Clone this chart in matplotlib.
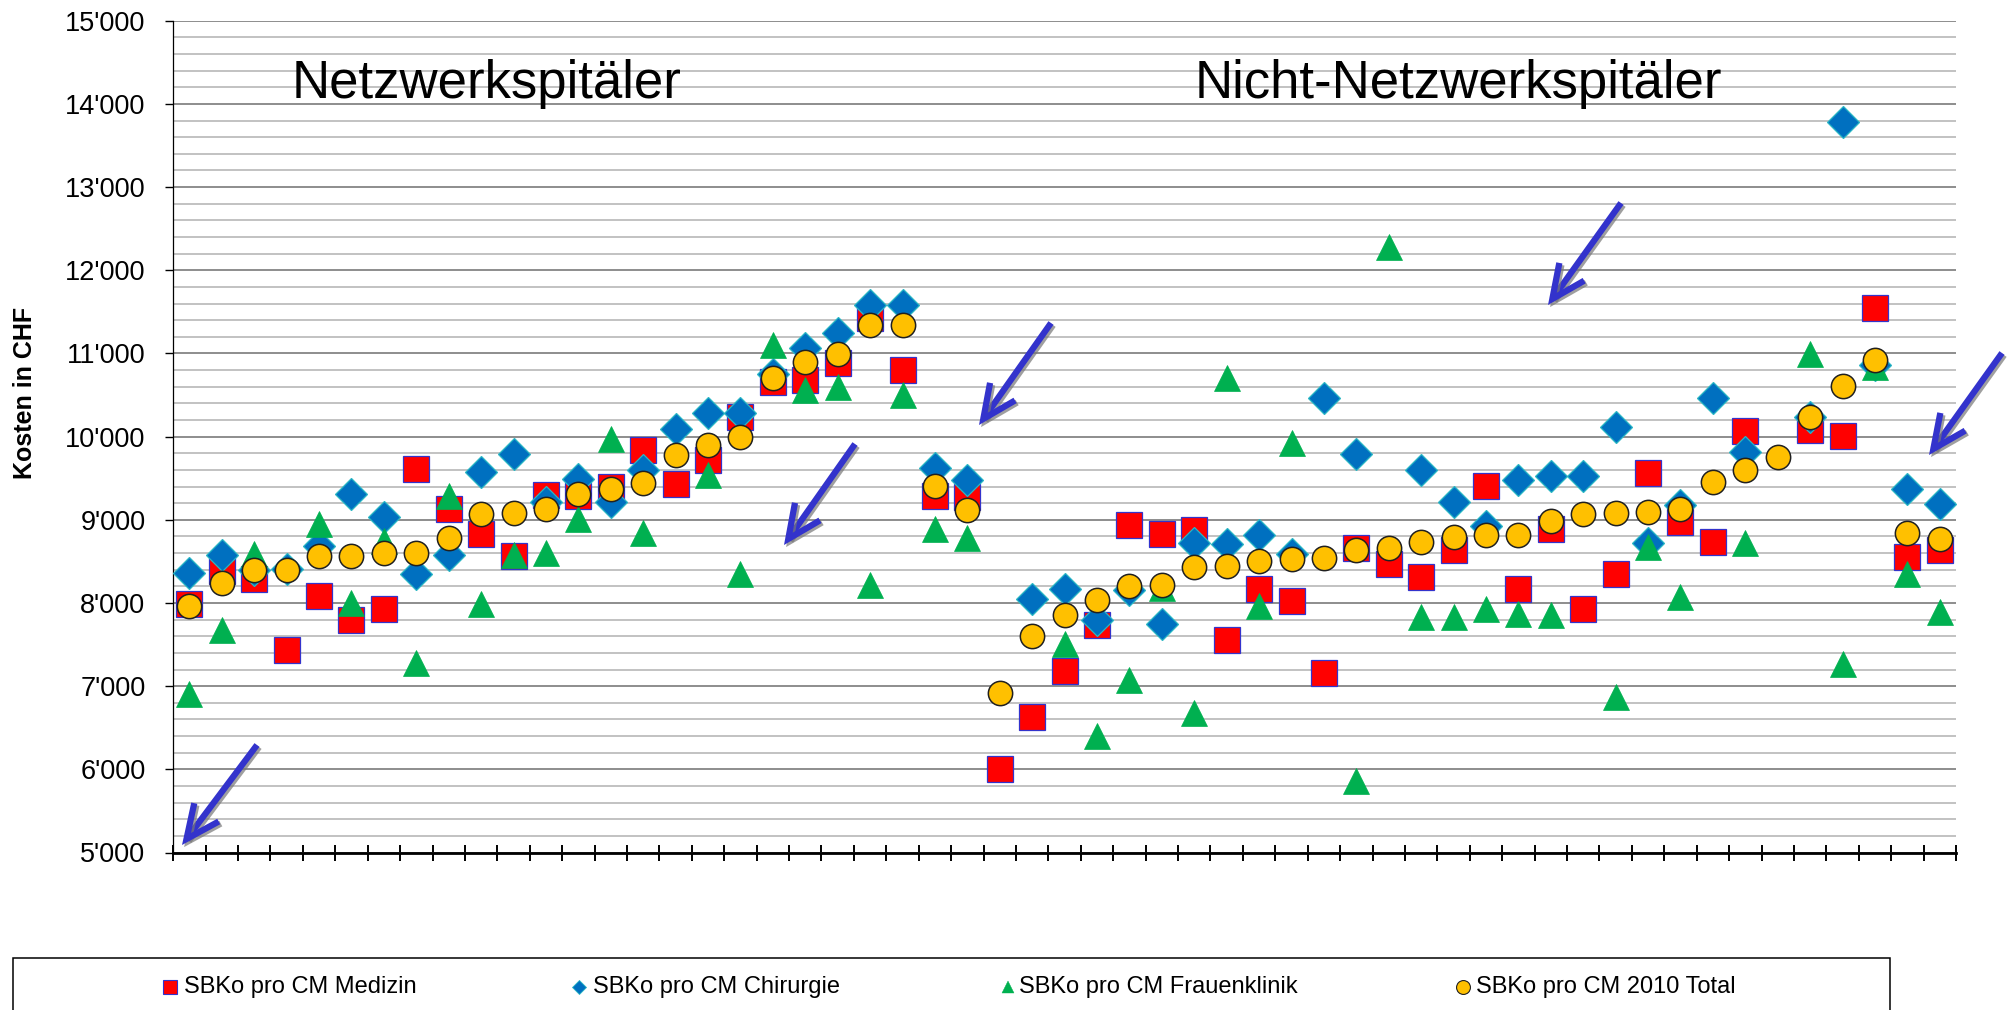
import numpy as np
import matplotlib
matplotlib.use("Agg")
import matplotlib.pyplot as plt
import matplotlib.patheffects as pe
from matplotlib.lines import Line2D
from matplotlib.patches import Rectangle, FancyArrowPatch
from matplotlib.ticker import FuncFormatter, MultipleLocator

plt.rcParams['font.family'] = ['Liberation Sans', 'DejaVu Sans']

nan = np.nan

# SBKo pro CM, one value per hospital (55 hospitals)
medizin = [7990, 8390, 8285, 7440, 8080, 7790, 7925, 9610, 9130, 8835,
           8565, 9295, 9280, 9400, 9835, 9430, 9715, 10230, 10660, 10685,
           10880, 11420, 10800, 9280, 9275, 6005, 6630, 7180, 7730, 8940,
           8835, 8875, 7560, 8170, 8025, 7160, 8655, 8465, 8310, 8635,
           9405, 8170, 8890, 7930, 8345, 9565, 8975, 8735, 10065, nan,
           10080, 10010, 11550, 8555, 8640]
chirurgie = [8360, 8575, 8400, 8410, 8690, 9315, 9035, 8350, 8575, 9575,
             9790, 9215, 9495, 9215, 9600, 10095, 10285, 10285, 10750, 11060,
             11240, 11580, 11580, 9625, 9475, nan, 8050, 8170, 7790, 8150,
             7745, 8720, 8705, 8815, 8590, 10470, 9790, nan, 9595, 9215,
             8920, 9475, 9525, 9525, 10115, 8715, 9175, 10470, 9820, nan,
             10230, 13785, 10860, 9375, 9195]
frauenklinik = [6910, 7680, 8590, nan, 8950, 8000, 8750, 7275, 9280, 7990,
                8575, 8595, 9005, 9975, 8845, nan, 9540, 8350, 11100, 10555,
                10600, 8210, 10500, 8895, 8775, nan, nan, 7510, 6395, 7075,
                8180, 6675, 10700, 7960, 9925, nan, 5865, 12280, 7830, 7830,
                7930, 7870, 7850, nan, 6870, 8675, 8070, nan, 8715, nan,
                10990, 7270, 10840, 8345, 7890]
total_2010 = [7965, 8235, 8395, 8395, 8560, 8560, 8595, 8605, 8785, 9075,
              9085, 9130, 9305, 9375, 9445, 9780, 9900, 9990, 10710, 10900,
              10990, 11340, 11340, 9405, 9120, 6915, 7600, 7850, 8030, 8205,
              8210, 8430, 8440, 8500, 8530, 8540, 8640, 8655, 8735, 8795,
              8815, 8815, 8980, 9075, 9080, 9095, 9135, 9450, 9595, 9760,
              10240, 10610, 10915, 8840, 8765]

series_labels = ['SBKo pro CM Medizin', 'SBKo pro CM Chirurgie',
                 'SBKo pro CM Frauenklinik', 'SBKo pro CM 2010 Total']
group_labels = ['Netzwerkspitäler', 'Nicht-Netzwerkspitäler']
y_label = 'Kosten in CHF'

W, H = 2015, 1010
fig = plt.figure(figsize=(W / 100, H / 100), dpi=100)
ax = fig.add_axes([173.2 / W, 1 - 852.5 / H, (1956 - 173.2) / W, (852.5 - 20.7) / H])

n = len(total_2010)
x = np.arange(n)

ax.plot(x, medizin, ls='none', marker='s', ms=19.2, mfc='#ff0000',
        mec='#3333cc', mew=0.9, zorder=3)
ax.plot(x, chirurgie, ls='none', marker='D', ms=15.8, mfc='#0070c0',
        mec='#2ab7c4', mew=0.9, zorder=4)
ax.plot(x, frauenklinik, ls='none', marker='^', ms=18.7, mfc='#00b050',
        mec='#00b050', mew=0.5, zorder=5)
ax.plot(x, total_2010, ls='none', marker='o', ms=17.5, mfc='#ffc000',
        mec='#202020', mew=1.1, zorder=6)

ax.set_xlim(-0.5, n - 0.5)
ax.set_ylim(5000, 15000)
ax.yaxis.set_major_locator(MultipleLocator(1000))
ax.yaxis.set_minor_locator(MultipleLocator(200))
ax.yaxis.set_major_formatter(FuncFormatter(lambda v, p: f"{v:,.0f}".replace(",", "'")))
ax.set_xticks(np.arange(n + 1) - 0.5)
ax.set_xticklabels([])

ax.grid(True, axis='y', which='minor', color='#b8b8b8', lw=1.2, zorder=0)
ax.grid(True, axis='y', which='major', color='#858585', lw=1.3, zorder=0)
ax.set_axisbelow(True)

ax.spines['top'].set_visible(False)
ax.spines['right'].set_visible(False)
ax.spines['left'].set_linewidth(0.9)
ax.spines['bottom'].set_linewidth(2.0)
ax.tick_params(axis='y', which='major', direction='out', length=6, width=1.0,
               labelsize=19.5, pad=14)
ax.tick_params(axis='y', which='minor', length=0)
ax.tick_params(axis='x', direction='inout', length=12, width=1.4)

fig.text(25 / W, 1 - 393 / H, y_label, rotation=90, ha='center', va='center',
         fontsize=18, fontweight='bold')

# group titles
fig.text(292 / W, 1 - 98 / H, group_labels[0], fontsize=38, ha='left', va='baseline')
fig.text(1195 / W, 1 - 98 / H, group_labels[1], fontsize=38, ha='left', va='baseline')

# arrows (tail -> head, pixel coords from top-left)
arrows = [((257, 745), (182, 845)), ((855, 444), (784, 545)),
          ((1051, 323), (979, 425)), ((1621, 203), (1548, 305)),
          ((2002, 353), (1929, 455))]
for (x0, y0), (x1, y1) in arrows:
    arr = FancyArrowPatch((x0 / W, 1 - y0 / H), (x1 / W, 1 - y1 / H),
                          transform=fig.transFigure,
                          arrowstyle='->,head_length=2.4,head_width=1.1',
                          mutation_scale=10, lw=4.5, color='#3333cc',
                          shrinkA=0, shrinkB=0, capstyle='butt', joinstyle='miter')
    arr.set_path_effects([pe.SimpleLineShadow(offset=(1.5, -1.5), shadow_color='#777777', alpha=0.7),
                          pe.Normal()])
    fig.add_artist(arr)

# legend box
fig.add_artist(Rectangle((13 / W, -0.05), (1890 - 13) / W, (H - 958) / H + 0.05,
                         transform=fig.transFigure, fill=False, ec='black', lw=1.1))
leg_y = 1 - 987 / H
leg_marker_x = [170, 579, 1008, 1463]
leg_text_x = [184, 593, 1019, 1476]
leg_styles = [dict(marker='s', ms=9.5, mfc='#ff0000', mec='#3333cc', mew=0.8),
              dict(marker='D', ms=7, mfc='#0070c0', mec='#2ab7c4', mew=0.6),
              dict(marker='^', ms=9, mfc='#00b050', mec='#00b050', mew=0.3),
              dict(marker='o', ms=10, mfc='#ffc000', mec='#202020', mew=0.8)]
for mx, tx, lab, st in zip(leg_marker_x, leg_text_x, series_labels, leg_styles):
    fig.add_artist(Line2D([mx / W], [leg_y], transform=fig.transFigure, ls='none', **st))
    fig.text(tx / W, leg_y, lab, fontsize=17, ha='left', va='center')

fig.savefig('out.png', dpi=100)
